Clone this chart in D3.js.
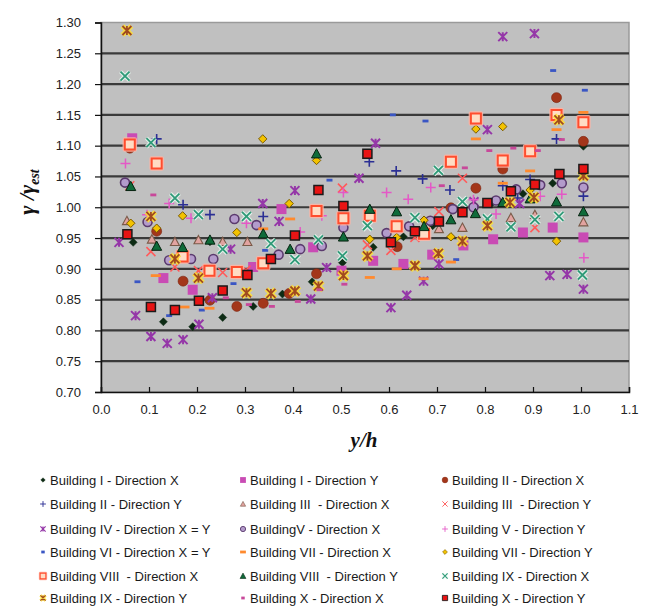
<!DOCTYPE html>
<html><head><meta charset="utf-8">
<script src="https://cdn.jsdelivr.net/npm/d3@7"></script>
<style>body{margin:0;background:#fff}svg{display:block}</style>
</head><body><svg id="c" width="649" height="608"></svg>
<script>
// ---- data (x = y/h, y = gamma/gamma_est) ----
const b1x = [[0.067,0.943],[0.13,0.814],[0.191,0.806],[0.227,0.944],[0.2535,0.821],[0.317,0.839],[0.378,0.859],[0.44,0.879],[0.503,0.91],[0.567,0.935],[0.63,0.952],[0.691,0.97],[0.816,1.008],[0.879,1.022],[0.941,1.039],[1.005,1.099]];
const b1y = [[0.065,1.112],[0.13,0.885],[0.191,0.866],[0.317,0.903],[0.376,0.997],[0.442,0.935],[0.501,0.897],[0.567,0.913],[0.63,0.908],[0.69,0.923],[0.755,0.938],[0.817,0.948],[0.879,0.959],[0.941,0.967],[1.005,0.951]];
const b2x = [[0.06,1.096],[0.116,0.961],[0.171,0.88],[0.227,0.849],[0.283,0.839],[0.338,0.844],[0.392,0.86],[0.449,0.892],[0.617,0.936],[0.729,0.999],[0.781,1.031],[0.837,1.062],[0.949,1.178],[1.005,1.107]];
const b2y = [[0.116,1.111],[0.171,1.004],[0.227,0.988],[0.338,0.985],[0.559,1.074],[0.615,1.059],[0.67,1.046],[0.727,1.028],[0.837,1.035],[0.868,1.015],[0.894,1.045],[0.949,1.111],[1.005,1.018]];
const b3x = [[0.054,0.978],[0.106,0.948],[0.154,0.944],[0.203,0.947],[0.2535,0.944],[0.305,0.944],[0.704,0.965],[0.753,0.967],[0.854,0.983],[0.904,0.988],[1.005,0.976]];
const b3y = [[0.06,1.035],[0.104,0.928],[0.154,0.903],[0.203,0.897],[0.2535,0.894],[0.302,0.898],[0.503,1.031],[0.555,0.939],[0.604,0.93],[0.654,0.951],[0.704,0.993],[0.753,1.047],[0.904,0.967]];
const b4 = [[0.0375,0.943],[0.072,0.824],[0.104,0.79],[0.138,0.779],[0.171,0.785],[0.204,0.81],[0.232,0.853],[0.27,0.932],[0.337,1.006],[0.371,0.977],[0.404,1.027],[0.437,0.851],[0.47,0.902],[0.5375,1.047],[0.572,1.104],[0.604,0.837],[0.637,0.857],[0.672,0.88],[0.704,0.908],[0.777,1.009],[0.805,1.126],[0.837,1.277],[0.872,1.006],[0.903,1.282],[0.935,0.889],[0.971,0.891],[1.005,0.867]];
const b5x = [[0.05,1.04],[0.097,0.976],[0.142,0.914],[0.1875,0.916],[0.234,0.916],[0.278,0.981],[0.324,0.971],[0.37,0.923],[0.415,0.932],[0.46,0.937],[0.505,0.967],[0.595,0.958],[0.642,0.969],[0.686,0.978],[0.733,0.997],[0.776,1.0],[0.823,1.011],[0.865,1.029],[0.915,1.036],[0.96,1.039],[1.005,1.032]];
const b5y = [[0.051,1.071],[0.096,0.988],[0.142,1.006],[0.1875,0.982],[0.303,0.974],[0.415,0.96],[0.46,0.986],[0.505,1.024],[0.595,1.024],[0.64,1.013],[0.687,1.032],[0.776,1.012],[0.823,0.989],[0.915,1.018],[0.96,1.021],[1.006,0.918]];
const b6 = [[0.076,0.879],[0.142,0.824],[0.21,0.833],[0.276,0.876],[0.342,0.93],[0.476,1.044],[0.608,1.15],[0.676,1.14],[0.74,0.915],[0.942,1.222],[1.008,1.19]];
const b7x = [[0.114,0.889],[0.174,0.838],[0.226,0.836],[0.338,0.965],[0.394,0.981],[0.56,0.886],[0.616,0.9],[0.672,0.884],[0.729,0.911],[0.781,1.111],[0.837,1.039],[0.894,1.059],[0.949,1.126],[1.005,1.154]];
const b7y = [[0.062,0.974],[0.116,0.966],[0.17,0.986],[0.283,0.959],[0.337,1.111],[0.392,1.006],[0.449,1.076],[0.56,0.948],[0.616,0.951],[0.673,0.979],[0.729,0.952],[0.781,1.127],[0.837,1.131],[0.894,1.028],[0.949,0.945]];
const b8x = [[0.06,1.102],[0.116,1.071],[0.17,0.92],[0.226,0.897],[0.283,0.895],[0.338,0.909],[0.449,0.994],[0.505,0.982],[0.56,0.986],[0.616,0.969],[0.673,0.957],[0.729,1.074],[0.781,1.144],[0.837,1.076],[0.894,1.091],[0.949,1.15],[1.005,1.138]];
const b8y = [[0.062,1.034],[0.116,0.937],[0.17,0.935],[0.227,0.947],[0.338,0.957],[0.394,0.932],[0.449,1.087],[0.505,0.952],[0.56,0.997],[0.616,0.993],[0.673,0.969],[0.729,0.98],[0.78,0.99],[0.837,1.008],[0.894,1.014],[0.949,1.009],[1.005,0.993]];
const b9x = [[0.05,1.213],[0.104,1.105],[0.154,1.015],[0.203,0.988],[0.2535,0.932],[0.303,0.985],[0.354,0.941],[0.404,0.915],[0.453,0.947],[0.503,0.921],[0.555,0.97],[0.654,0.983],[0.703,1.06],[0.753,1.009],[0.805,0.981],[0.854,0.968],[0.904,0.98],[0.954,0.985],[1.003,0.89]];
const b9y = [[0.054,1.287],[0.104,0.985],[0.154,0.916],[0.203,0.885],[0.303,0.861],[0.354,0.86],[0.404,0.864],[0.453,0.872],[0.505,0.889],[0.555,0.921],[0.654,0.905],[0.703,0.925],[0.753,0.945],[0.805,0.97],[0.852,1.008],[0.902,1.016],[0.954,1.142],[1.005,1.051]];
const b10x = [[0.109,1.02],[0.26,0.853],[0.308,0.842],[0.356,0.839],[0.41,0.847],[0.455,0.866],[0.507,0.875],[0.71,1.035],[0.758,1.064],[0.809,1.092],[0.859,1.096],[0.91,1.092],[0.96,1.11]];
const b10y = [[0.055,0.956],[0.104,0.838],[0.154,0.833],[0.204,0.848],[0.2535,0.865],[0.305,0.89],[0.354,0.916],[0.404,0.954],[0.453,1.028],[0.505,1.002],[0.555,1.087],[0.604,0.943],[0.654,0.961],[0.704,0.977],[0.753,0.992],[0.805,1.007],[0.854,1.026],[0.904,1.037],[0.955,1.054],[1.005,1.062]];

const seriesNames = [
 "Building I - Direction X","Building I - Direction Y","Building II - Direction X",
 "Building II - Direction Y","Building III  - Direction X","Building III  - Direction Y",
 "Building IV - Direction X = Y","BuildingV - Direction X","Building V - Direction Y",
 "Building VI - Direction X = Y","Building VII - Direction X","Building VII - Direction Y",
 "Building VIII  - Direction X","Building VIII  - Direction Y","Building IX - Direction X",
 "Building IX - Direction Y","Building X - Direction X","Building X - Direction Y"];
const seriesData = [b1x,b1y,b2x,b2y,b3x,b3y,b4,b5x,b5y,b6,b7x,b7y,b8x,b8y,b9x,b9y,b10x,b10y];
const xTicks = [0,0.1,0.2,0.3,0.4,0.5,0.6,0.7,0.8,0.9,1.0,1.1];
const yTicks = [0.70,0.75,0.80,0.85,0.90,0.95,1.00,1.05,1.10,1.15,1.20,1.25,1.30];

// ---- marker styles ----
const styles = [
 {t:"diamond", r:4, fill:"#0d2b14", stroke:"#0d2b14", sw:0.5},
 {t:"square", r:5, fill:"#c94bb4", stroke:"none", sw:0},
 {t:"circle", r:5, fill:"#a3361a", stroke:"#7a2510", sw:0.6},
 {t:"plus", r:5, fill:"none", stroke:"#2b2f94", sw:1.6},
 {t:"triangle", r:4.5, fill:"#e2a3a0", stroke:"#7a5a48", sw:1.1},
 {t:"x", r:4.5, fill:"none", stroke:"#ff5a5a", sw:1.6},
 {t:"star", r:4.5, fill:"none", stroke:"#9537a8", sw:2},
 {t:"circle", r:4.5, fill:"#b39bcb", stroke:"#5b3a6e", sw:1.6},
 {t:"plus", r:5, fill:"none", stroke:"#e458c6", sw:1.5},
 {t:"dash", r:3, fill:"#3a56c4", stroke:"none", sw:0},
 {t:"dash", r:5, fill:"#ff8a2e", stroke:"none", sw:0},
 {t:"diamond", r:4.2, fill:"#f2c200", stroke:"#7a5a00", sw:1},
 {t:"square", r:5, fill:"#ffdcc4", stroke:"#ff4d2e", sw:2, halo:"#ffb4a4", hw:4.5},
 {t:"triangle", r:5, fill:"#0f6b3a", stroke:"#05220f", sw:1},
 {t:"x", r:4.5, fill:"none", stroke:"#2f9a78", sw:1.8, halo:"#e8f8f0", hw:4},
 {t:"star", r:4.5, fill:"none", stroke:"#a04a20", sw:1.8, halo:"#ffe030", hw:5},
 {t:"dash", r:3, fill:"#c8489a", stroke:"none", sw:0},
 {t:"square", r:4.5, fill:"#e81414", stroke:"#1a1a1a", sw:1.5}
];

function markerPath(t, r){
  switch(t){
    case "diamond": return `M0,${-r}L${r},0L0,${r}L${-r},0Z`;
    case "square": return `M${-r},${-r}h${2*r}v${2*r}h${-2*r}Z`;
    case "circle": return `M${r},0A${r},${r} 0 1 1 ${-r},0A${r},${r} 0 1 1 ${r},0Z`;
    case "triangle": return `M0,${-r}L${r},${r*0.85}L${-r},${r*0.85}Z`;
    case "plus": return `M${-r},0H${r}M0,${-r}V${r}`;
    case "x": return `M${-r},${-r}L${r},${r}M${r},${-r}L${-r},${r}`;
    case "star": return `M${-r},${-r}L${r},${r}M${r},${-r}L${-r},${r}M0,${-r}V${r}`;
    case "dash": return `M${-r},-1.4h${2*r}v2.8h${-2*r}Z`;
  }
}

const svg = d3.select("#c");
const L = 101, R = 629, T = 22.5, B = 392;
const x = d3.scaleLinear().domain([0,1.1]).range([L,R]);
const y = d3.scaleLinear().domain([0.70,1.30]).range([B,T]);

// plot background
svg.append("rect").attr("x",L).attr("y",T).attr("width",R-L).attr("height",B-T)
  .attr("fill","#c0c0c0").attr("stroke","#9a9a9a").attr("stroke-width",1.5);

// gridlines
svg.append("g").selectAll("line").data(yTicks.filter(v=>v>0.70 && v<1.30)).join("line")
  .attr("x1",L).attr("x2",R).attr("y1",d=>y(d)).attr("y2",d=>y(d))
  .attr("stroke","#3a3a3a").attr("stroke-width",2.2);

// axes
const yAxis = d3.axisLeft(y).tickValues(yTicks).tickFormat(d3.format(".2f")).tickSize(6).tickPadding(14);
const gy = svg.append("g").attr("transform",`translate(${L},0)`).call(yAxis);
const xAxis = d3.axisBottom(x).tickValues(xTicks).tickFormat(d3.format(".1f")).tickSize(-5).tickPadding(13);
const gx = svg.append("g").attr("transform",`translate(0,${B})`).call(xAxis);
[gx,gy].forEach(g=>{
  g.selectAll("path.domain").attr("stroke","#111").attr("stroke-width",1.5);
  g.selectAll(".tick line").attr("stroke","#111").attr("stroke-width",1.2);
  g.selectAll("text").attr("font-family","Arial, 'Liberation Sans', sans-serif").attr("font-size",13).attr("fill","#222");
});

// markers
function drawMarker(sel, st, scale){
  const p = markerPath(st.t, st.r*scale);
  if(st.halo){
    sel.append("path").attr("d",p).attr("fill","none").attr("stroke",st.halo)
      .attr("stroke-width",st.hw*scale).attr("stroke-linejoin","round").attr("opacity",0.85);
  }
  sel.append("path").attr("d",p).attr("fill",st.fill).attr("stroke",st.stroke)
    .attr("stroke-width",st.sw*scale);
}
seriesData.forEach((data,i)=>{
  const g = svg.append("g");
  g.selectAll("g").data(data).join("g")
    .attr("transform",d=>`translate(${x(d[0])},${y(d[1])})`)
    .each(function(){ drawMarker(d3.select(this), styles[i], 1); });
});

// axis titles
const yt = svg.append("text").attr("transform","translate(34,192) rotate(-90)")
  .attr("text-anchor","middle").attr("font-family","'Liberation Serif', 'Times New Roman', serif")
  .attr("font-style","italic").attr("font-weight","bold").attr("font-size",22).attr("fill","#111");
yt.append("tspan").text("γ /γ");
yt.append("tspan").attr("font-size",14).attr("dy",5).text("est");
svg.append("text").attr("x",364).attr("y",447).attr("text-anchor","middle")
  .attr("font-family","'Liberation Serif', 'Times New Roman', serif")
  .attr("font-style","italic").attr("font-weight","bold").attr("font-size",21).attr("fill","#111").text("y/h");

// legend
const colX = [43,243,445], rowY = [480,504,529,552,576,598];
seriesNames.forEach((name,i)=>{
  const c = i%3, r = Math.floor(i/3);
  const g = svg.append("g").attr("transform",`translate(${colX[c]},${rowY[r]})`);
  drawMarker(g, styles[i], 0.58);
  g.append("text").attr("x",7).attr("y",4.5).attr("font-family","Arial, 'Liberation Sans', sans-serif")
    .attr("font-size",13).attr("fill","#1a1a1a").style("white-space","pre").text(name);
});
</script></body></html>
